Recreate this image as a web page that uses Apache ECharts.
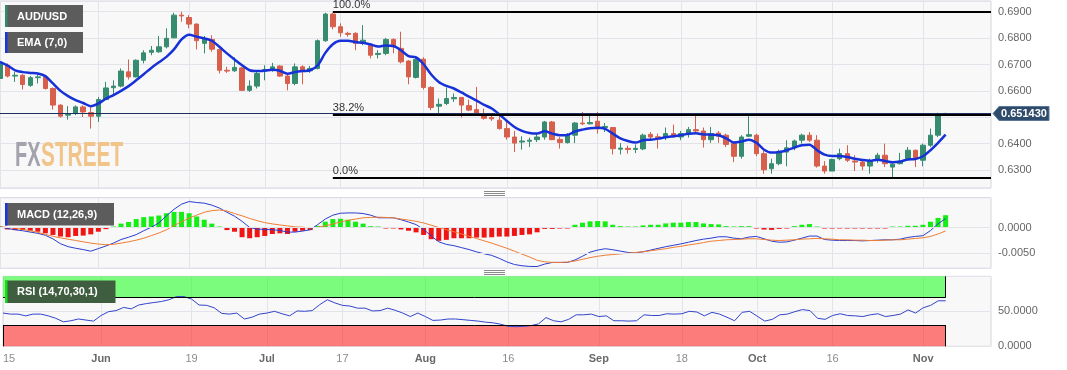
<!DOCTYPE html>
<html><head><meta charset="utf-8">
<script src="https://cdn.jsdelivr.net/npm/echarts@6/dist/echarts.min.js"></script>
<style>html,body{margin:0;padding:0;background:#fff;}#c{width:1067px;height:370px;}</style>
</head><body><div id="c"></div>
<script>
// ---------------- DATA ----------------
const firstDay = '2023-05-15';
const tickDates = ['2023-05-15','2023-06-01','2023-06-19','2023-07-03','2023-07-17','2023-08-01','2023-08-16','2023-09-01','2023-09-18','2023-10-02','2023-10-16','2023-11-01'];
const tickLabels = ['15','Jun','19','Jul','17','Aug','16','Sep','18','Oct','16','Nov'];
const monthLabels = ['Jun','Jul','Aug','Sep','Oct','Nov'];

const opens = [0.6647,0.6697,0.6656,0.6659,0.6621,0.6650,0.6653,0.6609,0.6546,0.6508,
0.6514,0.6539,0.6518,0.6504,0.6567,0.6612,0.6618,0.6672,0.6653,0.6716,
0.6746,0.6748,0.6767,0.6801,0.6887,0.6878,0.6853,0.6780,0.6795,0.6757,
0.6678,0.6676,0.6687,0.6602,0.6618,0.6676,0.6678,0.6694,0.6656,0.6628,
0.6691,0.6676,0.6685,0.6790,0.6891,0.6843,0.6818,0.6818,0.6786,0.6773,
0.6738,0.6742,0.6795,0.6761,0.6713,0.6651,0.6720,0.6613,0.6542,0.6552,
0.6570,0.6575,0.6544,0.6529,0.6511,0.6499,0.6489,0.6457,0.6425,0.6406,
0.6409,0.6415,0.6425,0.6482,0.6416,0.6404,0.6432,0.6478,0.6475,0.6485,
0.6461,0.6461,0.6379,0.6382,0.6378,0.6380,0.6435,0.6426,0.6425,0.6438,
0.6425,0.6436,0.6453,0.6448,0.6415,0.6440,0.6432,0.6400,0.6352,0.6428,
0.6432,0.6362,0.6305,0.6324,0.6368,0.6384,0.6413,0.6432,0.6413,0.6315,
0.6296,0.6343,0.6362,0.6334,0.6330,0.6315,0.6340,0.6356,0.6311,0.6324,
0.6343,0.6375,0.6337,0.6394,0.6432,0.6510];
const closes = [0.6704,0.6656,0.6659,0.6624,0.6650,0.6653,0.6609,0.6546,0.6504,0.6514,
0.6539,0.6520,0.6504,0.6567,0.6611,0.6618,0.6675,0.6653,0.6716,0.6744,
0.6754,0.6767,0.6799,0.6887,0.6884,0.6853,0.6790,0.6799,0.6758,0.6678,
0.6675,0.6689,0.6602,0.6618,0.6666,0.6681,0.6691,0.6656,0.6628,0.6691,
0.6678,0.6685,0.6790,0.6891,0.6843,0.6820,0.6814,0.6780,0.6792,0.6735,
0.6742,0.6795,0.6767,0.6710,0.6653,0.6719,0.6613,0.6537,0.6549,0.6571,
0.6575,0.6546,0.6527,0.6514,0.6496,0.6494,0.6457,0.6425,0.6402,0.6410,
0.6413,0.6425,0.6482,0.6415,0.6404,0.6432,0.6478,0.6475,0.6480,0.6456,
0.6465,0.6381,0.6383,0.6378,0.6382,0.6432,0.6425,0.6422,0.6438,0.6429,
0.6438,0.6453,0.6448,0.6415,0.6438,0.6428,0.6397,0.6352,0.6425,0.6434,
0.6362,0.6301,0.6324,0.6368,0.6384,0.6410,0.6432,0.6413,0.6315,0.6296,
0.6340,0.6362,0.6337,0.6330,0.6315,0.6333,0.6356,0.6324,0.6322,0.6333,
0.6375,0.6343,0.6394,0.6432,0.6508,0.65143];
const lows = [0.6640,0.6651,0.6634,0.6605,0.6615,0.6628,0.6605,0.6529,0.6499,0.6491,
0.6508,0.6501,0.6457,0.6482,0.6565,0.6584,0.6613,0.6643,0.6651,0.6704,
0.6735,0.6744,0.6761,0.6799,0.6862,0.6837,0.6757,0.6742,0.6748,0.6666,
0.6668,0.6672,0.6600,0.6596,0.6609,0.6640,0.6672,0.6653,0.6602,0.6621,
0.6625,0.6668,0.6681,0.6786,0.6833,0.6805,0.6805,0.6754,0.6773,0.6723,
0.6723,0.6735,0.6742,0.6704,0.6625,0.6647,0.6605,0.6527,0.6514,0.6546,
0.6558,0.6499,0.6523,0.6508,0.6491,0.6486,0.6453,0.6415,0.6368,0.6377,
0.6387,0.6406,0.6415,0.6413,0.6381,0.6400,0.6402,0.6470,0.6473,0.6438,
0.6444,0.6359,0.6359,0.6362,0.6364,0.6375,0.6413,0.6381,0.6413,0.6423,
0.6413,0.6423,0.6438,0.6385,0.6403,0.6403,0.6387,0.6330,0.6343,0.6425,
0.6352,0.6286,0.6286,0.6318,0.6314,0.6375,0.6400,0.6406,0.6309,0.6286,
0.6296,0.6337,0.6330,0.6296,0.6299,0.6286,0.6327,0.6311,0.6273,0.6321,
0.6337,0.6311,0.6314,0.6387,0.6425,0.6508];
const highs = [0.6710,0.6704,0.6672,0.6663,0.6656,0.6663,0.6659,0.6613,0.6549,0.6542,
0.6545,0.6545,0.6542,0.6577,0.6634,0.6640,0.6685,0.6719,0.6719,0.6754,
0.6770,0.6808,0.6837,0.6896,0.6900,0.6887,0.6856,0.6808,0.6811,0.6761,
0.6691,0.6727,0.6691,0.6640,0.6672,0.6697,0.6706,0.6697,0.6663,0.6704,
0.6697,0.6694,0.6795,0.6896,0.6896,0.6856,0.6824,0.6822,0.6849,0.6780,
0.6754,0.6801,0.6799,0.6824,0.6716,0.6727,0.6727,0.6618,0.6571,0.6613,
0.6590,0.6577,0.6567,0.6615,0.6533,0.6508,0.6514,0.6482,0.6448,0.6428,
0.6423,0.6440,0.6486,0.6486,0.6425,0.6440,0.6482,0.6520,0.6508,0.6520,
0.6478,0.6463,0.6402,0.6393,0.6397,0.6438,0.6444,0.6438,0.6461,0.6472,
0.6448,0.6463,0.6510,0.6461,0.6463,0.6448,0.6438,0.6406,0.6432,0.6504,
0.6438,0.6372,0.6343,0.6377,0.6413,0.6415,0.6438,0.6444,0.6432,0.6334,
0.6343,0.6381,0.6394,0.6356,0.6337,0.6343,0.6365,0.6400,0.6330,0.6365,
0.6387,0.6377,0.6400,0.6457,0.6517,0.6517];
const ema7 = [0.6710,0.6696,0.6678,0.6671,0.6668,0.6666,0.6656,0.6628,0.6600,0.6580,
0.6565,0.6554,0.6542,0.6552,0.6570,0.6584,0.6600,0.6618,0.6640,0.6663,
0.6687,0.6708,0.6729,0.6757,0.6795,0.6813,0.6805,0.6799,0.6790,0.6767,
0.6742,0.6719,0.6697,0.6678,0.6675,0.6676,0.6680,0.6676,0.6665,0.6671,
0.6675,0.6678,0.6697,0.6744,0.6777,0.6790,0.6790,0.6785,0.6782,0.6776,
0.6768,0.6772,0.6770,0.6754,0.6732,0.6727,0.6701,0.6662,0.6634,0.6619,
0.6609,0.6594,0.6578,0.6563,0.6547,0.6533,0.6511,0.6486,0.6463,0.6448,
0.6440,0.6438,0.6447,0.6438,0.6432,0.6433,0.6446,0.6453,0.6458,0.6460,
0.6456,0.6438,0.6420,0.6410,0.6404,0.6413,0.6415,0.6419,0.6424,0.6428,
0.6432,0.6437,0.6439,0.6435,0.6434,0.6432,0.6420,0.6404,0.6408,0.6415,
0.6403,0.6377,0.6366,0.6368,0.6375,0.6385,0.6394,0.6396,0.6375,0.6358,
0.6353,0.6353,0.6349,0.6343,0.6338,0.6335,0.6339,0.6334,0.6329,0.6332,
0.6340,0.6342,0.6352,0.6375,0.6403,0.6434];
const macdLine = [0.00013,-0.00019,-0.00045,-0.00064,-0.00090,-0.00115,-0.00154,-0.00224,-0.00321,-0.00378,
-0.00410,-0.00436,-0.00468,-0.00417,-0.00365,-0.00308,-0.00237,-0.00192,-0.00141,-0.00064,
0.00006,0.00090,0.00231,0.00359,0.00462,0.00513,0.00494,0.00481,0.00442,0.00385,
0.00301,0.00224,0.00122,0.00000,-0.00032,-0.00038,-0.00045,-0.00058,-0.00090,-0.00090,
-0.00071,-0.00045,0.00058,0.00167,0.00244,0.00282,0.00288,0.00288,0.00276,0.00244,
0.00192,0.00192,0.00192,0.00154,0.00109,0.00058,-0.00038,-0.00167,-0.00282,-0.00333,
-0.00359,-0.00397,-0.00436,-0.00481,-0.00519,-0.00551,-0.00609,-0.00679,-0.00731,-0.00756,
-0.00769,-0.00771,-0.00723,-0.00690,-0.00690,-0.00690,-0.00642,-0.00568,-0.00487,-0.00446,
-0.00419,-0.00439,-0.00466,-0.00493,-0.00500,-0.00480,-0.00446,-0.00412,-0.00379,-0.00352,
-0.00324,-0.00291,-0.00257,-0.00230,-0.00210,-0.00183,-0.00183,-0.00210,-0.00223,-0.00189,
-0.00176,-0.00223,-0.00270,-0.00291,-0.00284,-0.00250,-0.00210,-0.00169,-0.00169,-0.00237,
-0.00250,-0.00257,-0.00257,-0.00257,-0.00264,-0.00257,-0.00250,-0.00243,-0.00243,-0.00230,
-0.00196,-0.00176,-0.00162,-0.00061,0.00074,0.00176];
const signalLine = [0.00013,0.00000,-0.00013,-0.00038,-0.00064,-0.00096,-0.00135,-0.00173,-0.00205,-0.00231,
-0.00256,-0.00282,-0.00308,-0.00327,-0.00340,-0.00333,-0.00308,-0.00282,-0.00250,-0.00212,
-0.00160,-0.00109,-0.00045,0.00038,0.00115,0.00186,0.00244,0.00301,0.00333,0.00346,
0.00327,0.00276,0.00231,0.00179,0.00135,0.00096,0.00071,0.00051,0.00032,0.00013,
0.00006,-0.00006,0.00006,0.00032,0.00071,0.00109,0.00141,0.00167,0.00192,0.00199,
0.00205,0.00199,0.00192,0.00167,0.00147,0.00122,0.00090,0.00045,0.00000,-0.00045,
-0.00083,-0.00128,-0.00173,-0.00218,-0.00263,-0.00308,-0.00359,-0.00410,-0.00468,-0.00526,
-0.00583,-0.00649,-0.00676,-0.00690,-0.00690,-0.00683,-0.00662,-0.00629,-0.00595,-0.00568,
-0.00548,-0.00534,-0.00521,-0.00507,-0.00493,-0.00480,-0.00460,-0.00439,-0.00419,-0.00392,
-0.00372,-0.00345,-0.00324,-0.00297,-0.00270,-0.00257,-0.00243,-0.00237,-0.00230,-0.00223,
-0.00223,-0.00237,-0.00250,-0.00257,-0.00250,-0.00243,-0.00230,-0.00223,-0.00216,-0.00223,
-0.00230,-0.00243,-0.00243,-0.00250,-0.00250,-0.00257,-0.00257,-0.00250,-0.00243,-0.00243,
-0.00230,-0.00216,-0.00203,-0.00176,-0.00128,-0.00068];
const macdHist = [0.00000,-0.00038,-0.00051,-0.00051,-0.00064,-0.00083,-0.00115,-0.00147,-0.00179,-0.00192,
-0.00167,-0.00160,-0.00135,-0.00083,-0.00032,0.00013,0.00077,0.00109,0.00167,0.00205,
0.00218,0.00237,0.00282,0.00308,0.00308,0.00282,0.00218,0.00154,0.00077,0.00006,
-0.00051,-0.00083,-0.00192,-0.00212,-0.00192,-0.00167,-0.00128,-0.00115,-0.00128,-0.00083,
-0.00064,-0.00051,0.00032,0.00115,0.00167,0.00173,0.00154,0.00115,0.00077,0.00026,
0.00006,-0.00003,-0.00006,-0.00038,-0.00064,-0.00096,-0.00147,-0.00231,-0.00263,-0.00244,
-0.00212,-0.00212,-0.00212,-0.00199,-0.00199,-0.00192,-0.00179,-0.00179,-0.00167,-0.00147,
-0.00135,-0.00095,-0.00027,-0.00027,-0.00020,-0.00014,0.00054,0.00095,0.00122,0.00128,
0.00122,0.00054,0.00027,0.00020,0.00014,0.00041,0.00054,0.00054,0.00081,0.00095,
0.00095,0.00108,0.00108,0.00081,0.00068,0.00061,0.00027,0.00014,0.00027,0.00027,
-0.00007,-0.00041,-0.00047,-0.00027,-0.00007,0.00027,0.00054,0.00068,0.00014,-0.00020,
-0.00020,-0.00014,-0.00007,-0.00007,-0.00007,-0.00014,-0.00003,-0.00003,0.00007,0.00014,
0.00034,0.00034,0.00054,0.00115,0.00189,0.00243];
const rsi = [47.5,46,46,43.5,46,46,43.5,40,35,36.5,
39,37.5,36,44,49.5,51,55.5,53.5,59,61,
62.5,64,66.5,71,71,67.5,59,58.5,55,47,
46,47.5,39,41.5,46,47.5,50,46.5,43.5,50.5,
50,51,59.5,66.5,62,58.5,57.5,54.5,54.5,50.5,
51,54.5,51.5,47.5,42.5,47.5,42.5,37,37.5,39,
39,38,37,36,34.5,33.5,31.5,28.5,28,28.5,
29.5,32,41,36.5,35,38.5,45,45,46,42.5,
43.5,36.5,36.5,36,36.5,45,44,44,46.5,46,
46.5,50,49,43.5,48.5,46,41.5,36.5,48.5,50,
43,36,38.5,45,46,49.5,52.5,51,40,38.5,
44,46.5,44,43.5,42.5,45,46.5,42.5,44,46,
52,47.5,55,58.5,65,65];
const fibLevels = [0.68995, 0.65111, 0.6271];
const fibLabels = ['100.0%', '38.2%', '0.0%'];
const fibStartIndex = 44;
const lastPrice = 0.65143;
const rsiBands = {upper: 70, lower: 30, top: 100, bottom: 0};

// ---------------- CATEGORIES ----------------
const nCats = opens.length + 6;
const categories = [];
(function(){
  const d = new Date(firstDay + 'T12:00:00Z');
  while (categories.length < nCats) {
    const wd = d.getUTCDay();
    if (wd !== 0 && wd !== 6) categories.push(d.toISOString().slice(0,10));
    d.setUTCDate(d.getUTCDate() + 1);
  }
})();
const tickMap = {};
tickDates.forEach((t,i)=>{ tickMap[t] = tickLabels[i]; });
const lastCat = categories[nCats-1];
const lastDataCat = categories[opens.length-1];

const UP = '#378c6f', DOWN = '#d7604d';
const GRIDC = '#e3e4ea';
const FONT = '"Liberation Sans", Arial, sans-serif';

const candleData = opens.map((o,i)=>[o, closes[i], lows[i], highs[i]]);

function xAx(gi, labels){
  return {
    type:'category', gridIndex:gi, data:categories, boundaryGap:false,
    axisLine:{show:false}, axisTick:{show:false},
    axisLabel: labels ? {
      show:true, interval:(i,v)=>tickMap[v]!==undefined, margin:7, alignMinLabel:'left',
      fontSize:11, fontFamily:FONT,
      formatter:(v)=>{ const t = tickMap[v]; if(t===undefined) return ''; return monthLabels.includes(t)?'{m|'+t+'}':'{d|'+t+'}'; },
      rich:{ m:{fontWeight:'bold', color:'#6a6a6a', fontSize:11, fontFamily:FONT}, d:{color:'#8c8c8c', fontSize:11, fontFamily:FONT} }
    } : {show:false},
    splitLine:{show:true, interval:(i,v)=>tickMap[v]!==undefined, lineStyle:{color:GRIDC, width:1}}
  };
}

const chart = echarts.init(document.getElementById('c'), null, {renderer:'canvas'});
const gridBase = {left:0, width:991, show:true, backgroundColor:'#f8f8f8', borderColor:'#d6d7de', borderWidth:1};

const option = {
  animation:false,
  textStyle:{fontFamily:FONT},
  grid:[
    Object.assign({top:1, height:187}, gridBase),
    Object.assign({top:197.7, height:70.5}, gridBase),
    Object.assign({top:276.3, height:70}, gridBase)
  ],
  xAxis:[xAx(0,false), xAx(1,false), xAx(2,true)],
  yAxis:[
    {type:'value', gridIndex:0, position:'right', min:0.62318, max:0.69406, splitNumber:7, scale:true,
     axisLine:{show:false}, axisTick:{show:false},
     axisLabel:{margin:7, fontSize:11, color:'#666', showMinLabel:false, showMaxLabel:false,
       formatter:v=>Math.abs(v-0.65)<1e-7?'':v.toFixed(4)},
     splitLine:{lineStyle:{color:GRIDC}}},
    {type:'value', gridIndex:1, position:'right', min:-0.00804, max:0.00589, splitNumber:3,
     axisLine:{show:false}, axisTick:{show:false}, splitLine:{show:false},
     axisLabel:{margin:7, fontSize:11, color:'#666', showMinLabel:false, showMaxLabel:false,
       formatter:v=>(Math.abs(v)<1e-9?'0.0000':(Math.abs(v+0.005)<1e-9?'-0.0050':''))}},
    {type:'value', gridIndex:2, position:'right', min:0, max:100, splitNumber:2,
     axisLine:{show:false}, axisTick:{show:false},
     splitLine:{lineStyle:{color:GRIDC}},
     axisLabel:{margin:7, fontSize:11, color:'#666',
       formatter:v=>(v===0||v===50)?v.toFixed(4):''}}
  ],
  series:[
    {type:'candlestick', xAxisIndex:0, yAxisIndex:0, data:candleData, barWidth:5,
     itemStyle:{color:UP, color0:DOWN, borderColor:UP, borderColor0:DOWN, borderWidth:1},
     markLine:{silent:true, symbol:['none','none'], animation:false, precision:6,
       data:[
         [{coord:[categories[0], lastPrice], lineStyle:{color:'#1d3160', width:1, type:'solid'}, label:{show:false}},
          {coord:[lastCat, lastPrice]}]
       ].concat(fibLevels.map((lv,k)=>[
         {coord:[categories[fibStartIndex], lv], lineStyle:{color:'#000', width:2.2, type:'solid'},
          label:{show:true, position:'insideStartTop', formatter:fibLabels[k], color:'#333', fontSize:11, fontFamily:FONT, distance:[0,1], padding:0}},
         {coord:[lastCat, lv]}
       ]))
     }},
    {type:'line', xAxisIndex:0, yAxisIndex:0, data:ema7, showSymbol:false, symbol:'none',
     lineStyle:{color:'#1631d8', width:2.5}, smooth:0.3, z:3},
    {type:'bar', xAxisIndex:1, yAxisIndex:1, barWidth:5, barMinHeight:1,
     data:macdHist.map(v=>({value:v, itemStyle:{color: v>=0 ? '#14ee14' : '#f01414'}})),
     markLine:{silent:true, symbol:['none','none'], animation:false, precision:6, label:{show:false},
       lineStyle:{color:GRIDC, width:1, type:'solid'}, data:[{yAxis:0},{yAxis:-0.005}]}, z:1},
    {type:'line', xAxisIndex:1, yAxisIndex:1, data:macdLine, showSymbol:false, symbol:'none',
     lineStyle:{color:'#2a3dd0', width:1}, z:3},
    {type:'line', xAxisIndex:1, yAxisIndex:1, data:signalLine, showSymbol:false, symbol:'none',
     lineStyle:{color:'#f07d32', width:1}, z:3},
    {type:'line', xAxisIndex:2, yAxisIndex:2, data:rsi, showSymbol:false, symbol:'none',
     lineStyle:{color:'#3344cc', width:1}, z:3,
     markArea:{silent:true, animation:false, data:[
       [{coord:[categories[0], rsiBands.upper], itemStyle:{color:'rgba(0,255,0,0.5)'}}, {coord:[lastDataCat, rsiBands.top]}],
       [{coord:[categories[0], rsiBands.bottom], itemStyle:{color:'rgba(255,0,0,0.5)'}}, {coord:[lastDataCat, rsiBands.lower]}]
     ]},
     markLine:{silent:true, symbol:['none','none'], animation:false, precision:6, label:{show:false},
       lineStyle:{color:'#000', width:1, type:'solid'},
       data:[
         [{coord:[categories[0], rsiBands.upper]},{coord:[lastDataCat, rsiBands.upper]}],
         [{coord:[categories[0], rsiBands.lower]},{coord:[lastDataCat, rsiBands.lower]}],
         [{coord:[lastDataCat, rsiBands.upper]},{coord:[lastDataCat, rsiBands.top]}],
         [{coord:[lastDataCat, rsiBands.bottom]},{coord:[lastDataCat, rsiBands.lower]}],
         [{coord:[categories[0], rsiBands.bottom]},{coord:[categories[0], rsiBands.lower]}]
       ]}}
  ]
};
chart.setOption(option);

// ---------------- OVERLAYS ----------------
const legendBoxes = [
  {x:5, y:5, w:78, h:22, stripe:'#2e8b6c', fill:'#5c5c5c', text:'AUD/USD'},
  {x:5, y:32, w:78, h:21, stripe:'#1a35e0', fill:'#5c5c5c', text:'EMA (7,0)'},
  {x:5, y:203, w:109, h:22.5, stripe:'#1a35e0', fill:'#5c5c5c', text:'MACD (12,26,9)'},
  {x:5, y:280.5, w:110.5, h:22.5, stripe:'#12e012', fill:'#3f5e3f', text:'RSI (14,70,30,1)'}
];
const g = [];
legendBoxes.forEach(b=>{
  g.push({type:'rect', shape:{x:b.x, y:b.y, width:b.w, height:b.h}, style:{fill:b.fill}, z:100});
  g.push({type:'rect', shape:{x:b.x, y:b.y, width:2.5, height:b.h}, style:{fill:b.stripe}, z:101});
  g.push({type:'text', x:b.x+12, y:b.y+b.h/2+0.5, style:{text:b.text, fill:'#fff', font:'bold 11px '+FONT, align:'left', verticalAlign:'middle'}, z:102});
});
// watermark
g.push({type:'text', x:15, y:156, scaleX:0.57, style:{text:'FX', fill:'#a3a3ad', font:'bold 35px '+FONT, align:'left', verticalAlign:'middle'}, z:1});
g.push({type:'text', x:41, y:156, scaleX:0.595, style:{text:'STREET', fill:'#f1c48a', font:'bold 35px '+FONT, align:'left', verticalAlign:'middle'}, z:1});
// panel handles
[[191,193,195],[270,272,274]].forEach(ys=>ys.forEach(y=>{
  g.push({type:'line', shape:{x1:484, y1:y+0.5, x2:505, y2:y+0.5}, style:{stroke:'#8a8a8a', lineWidth:1}, z:50});
}));
// price tag
const py = chart.convertToPixel({yAxisIndex:0}, lastPrice);
const px0 = 993;
g.push({type:'polygon', shape:{points:[[px0,py],[px0+6,py-7],[px0+56,py-7],[px0+56,py+7],[px0+6,py+7]]}, style:{fill:'#2f4b6c', stroke:'#5a7796', lineWidth:1}, z:100});
g.push({type:'text', x:px0+31, y:py+0.5, style:{text:lastPrice.toFixed(6), fill:'#fff', font:'bold 11px '+FONT, align:'center', verticalAlign:'middle'}, z:101});
chart.setOption({graphic:g});
</script>
</body></html>
